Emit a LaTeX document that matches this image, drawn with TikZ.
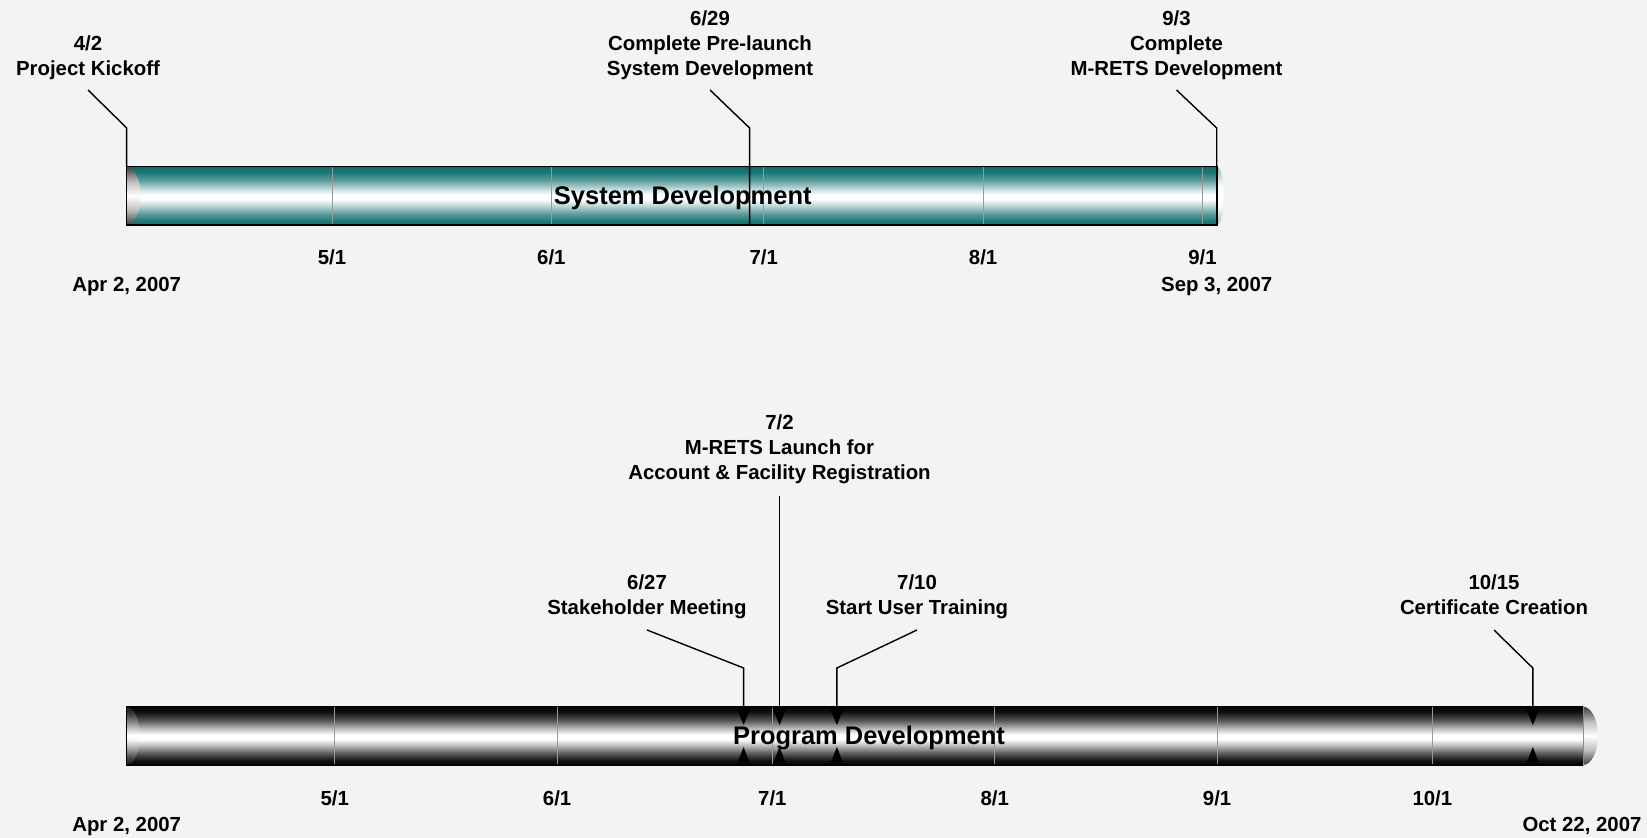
\documentclass[tikz,border=0pt]{standalone}
\usepackage{fontspec}
\setmainfont{Liberation Sans}
\usetikzlibrary{arrows.meta}

\definecolor{bgcol}{RGB}{243,243,243}
\definecolor{tealdk}{RGB}{10,108,108}

% bar shadings (the inner 25bp..75bp band covers the bar)
\pgfdeclareverticalshading{sysshade}{100bp}{color(0bp)=(tealdk); color(25bp)=(tealdk); color(29bp)=(tealdk!90!white); color(35bp)=(tealdk!65!white); color(42bp)=(tealdk!25!white); color(47bp)=(white); color(51bp)=(white); color(56bp)=(tealdk!25!white); color(63bp)=(tealdk!65!white); color(70bp)=(tealdk!92!white); color(75bp)=(tealdk); color(100bp)=(tealdk)}
\pgfdeclareverticalshading{progshade}{100bp}{color(0bp)=(black); color(25bp)=(black); color(29bp)=(black!92); color(35bp)=(black!65); color(42bp)=(black!25); color(47bp)=(white); color(51bp)=(white); color(56bp)=(black!25); color(63bp)=(black!65); color(70bp)=(black!92); color(75bp)=(black); color(100bp)=(black)}
\pgfdeclareverticalshading{capshade}{100bp}{color(0bp)=(black!75); color(25bp)=(black!75); color(38bp)=(black!25); color(50bp)=(white); color(62bp)=(black!25); color(75bp)=(black!75); color(100bp)=(black!75)}
\pgfdeclareverticalshading{capteal}{100bp}{color(0bp)=(tealdk!45!white); color(25bp)=(tealdk!45!white); color(42bp)=(white); color(58bp)=(white); color(75bp)=(tealdk!45!white); color(100bp)=(tealdk!45!white)}

\tikzset{
  mile/.style={font=\bfseries\fontsize{11.6}{14.2}\selectfont, align=center, inner sep=0pt},
  datelbl/.style={font=\bfseries\fontsize{11.6}{14.2}\selectfont, inner sep=0pt},
  barlbl/.style={font=\bfseries\fontsize{14.5}{17}\selectfont, inner sep=0pt},
  leader/.style={line width=0.8pt},
  dropin/.style={leader, -{Triangle[width=8pt,length=10pt]}},
  monthtick/.style={black!40, line width=0.5pt}
}

\begin{document}
\begin{tikzpicture}[x=0.02cm, y=-0.02cm]
        \fill[bgcol] (0,0) rectangle (1647,838);
        \useasboundingbox (0,0) rectangle (1647,838);

        % System Development bar
        \path[shading=sysshade] (126.7,166.7) rectangle (1216.7,225);
        \path[shading=capshade] (126.7,166.7) arc[start angle=-90, end angle=90, x radius=14, y radius=29.15] -- cycle;
        \path[shading=capteal] (1216.7,166.7) arc[start angle=-90, end angle=90, x radius=7, y radius=29.15] -- cycle;
        \draw[monthtick] (332.0,166.7) -- (332.0,225);
        \draw[monthtick] (551.4,166.7) -- (551.4,225);
        \draw[monthtick] (763.7,166.7) -- (763.7,225);
        \draw[monthtick] (983.1,166.7) -- (983.1,225);
        \draw[monthtick] (1202.5,166.7) -- (1202.5,225);
        \draw[line width=0.9pt] (126.7,166.7) rectangle (1216.7,225);
        \node[barlbl] (sysdev) at (682.8,198) {System Development};

        \node[datelbl] (s51) at (332.0,257) {5/1};
        \node[datelbl] (s61) at (551.4,257) {6/1};
        \node[datelbl] (s71) at (763.7,257) {7/1};
        \node[datelbl] (s81) at (983.1,257) {8/1};
        \node[datelbl] (s91) at (1202.5,257) {9/1};
        \node[datelbl] (sstart) at (126.7,286.5) {Apr 2, 2007};
        \node[datelbl] (send) at (1216.7,286.5) {Sep 3, 2007};

        \node[mile] (m42) at (88,57.5) {4/2\\Project Kickoff};
        \node[mile] (m629) at (710,45.5) {6/29\\Complete Pre-launch\\System Development};
        \node[mile] (m93) at (1176.5,45.5) {9/3\\Complete\\M-RETS Development};

        \coordinate (k42) at (126.7,128);
        \coordinate (e42) at (126.7,166.7);
        \coordinate (k629) at (749.6,128);
        \coordinate (e629) at (749.6,225);
        \coordinate (k93) at (1216.7,128);
        \coordinate (e93) at (1216.7,166.7);
        \draw[leader] (m42 |- 0,90) -- (k42) -- (e42);
        \draw[leader] (m629 |- 0,90) -- (k629) -- (e629);
        \draw[leader] (m93 |- 0,90) -- (k93) -- (e93);

        % Program Development bar
        \path[shading=progshade] (126.7,706.7) rectangle (1583,765);
        \path[shading=capshade, opacity=0.35] (126.7,706.7) arc[start angle=-90, end angle=90, x radius=13, y radius=29.15] -- cycle;
        \path[shading=capshade] (1583,706.7) arc[start angle=-90, end angle=90, x radius=15, y radius=29.15] -- cycle;
        \draw[monthtick] (334.7,706.7) -- (334.7,765);
        \draw[monthtick] (557.1,706.7) -- (557.1,765);
        \draw[monthtick] (772.4,706.7) -- (772.4,765);
        \draw[monthtick] (994.7,706.7) -- (994.7,765);
        \draw[monthtick] (1217.1,706.7) -- (1217.1,765);
        \draw[monthtick] (1432.4,706.7) -- (1432.4,765);
        \draw[line width=0.9pt] (1583,706.7) -- (126.7,706.7) -- (126.7,765) -- (1583,765);
        \draw[black!45, line width=0.5pt] (1583,706.7) -- (1583,765);
        \node[barlbl] (progdev) at (869,738) {Program Development};

        \node[datelbl] (p51) at (334.7,798) {5/1};
        \node[datelbl] (p61) at (557.1,798) {6/1};
        \node[datelbl] (p71) at (772.4,798) {7/1};
        \node[datelbl] (p81) at (994.7,798) {8/1};
        \node[datelbl] (p91) at (1217.1,798) {9/1};
        \node[datelbl] (p101) at (1432.4,798) {10/1};
        \node[datelbl] (pstart) at (126.7,826) {Apr 2, 2007};
        \node[datelbl] (pend) at (1582,826) {Oct 22, 2007};

        \node[mile] (m72) at (779.5,449.5) {7/2\\M-RETS Launch for\\Account \& Facility Registration};
        \node[mile] (m627) at (647,597) {6/27\\Stakeholder Meeting};
        \node[mile] (m710) at (917,597) {7/10\\Start User Training};
        \node[mile] (m1015) at (1494,595) {10/15\\Certificate Creation};

        \coordinate (e72) at (779.5,725);
        \coordinate (k627) at (743.6,668);
        \coordinate (e627) at (743.6,725);
        \coordinate (k710) at (836.9,668);
        \coordinate (e710) at (836.9,725);
        \coordinate (k1015) at (1532.8,668);
        \coordinate (e1015) at (1532.8,725);
        \draw[dropin] (m72 |- 0,496) -- (e72);
        \draw[dropin] (m627 |- 0,630) -- (k627) -- (e627);
        \draw[dropin] (m710 |- 0,630) -- (k710) -- (e710);
        \draw[dropin] (m1015 |- 0,630) -- (k1015) -- (e1015);

        \fill (736.6,765) -- (750.6,765) -- (743.6,747) -- cycle;
        \fill (772.5,765) -- (786.5,765) -- (779.5,747) -- cycle;
        \fill (829.9,765) -- (843.9,765) -- (836.9,747) -- cycle;
        \fill (1525.8,765) -- (1539.8,765) -- (1532.8,747) -- cycle;
\end{tikzpicture}
\end{document}
